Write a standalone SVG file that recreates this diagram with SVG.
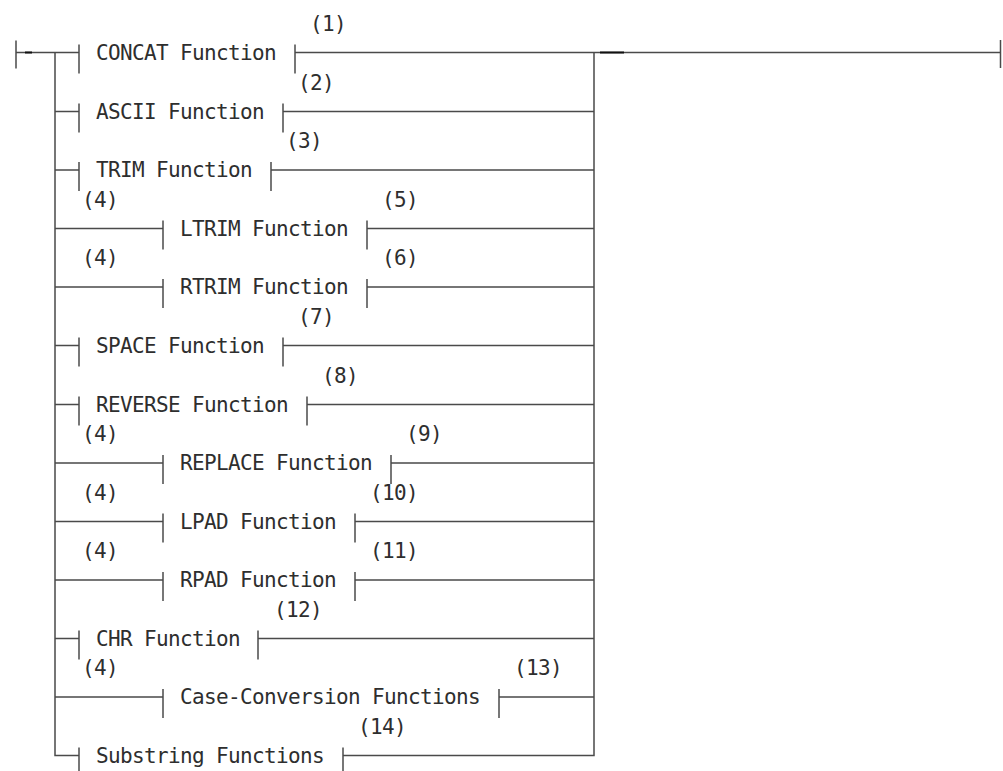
<svg xmlns="http://www.w3.org/2000/svg" width="1003" height="771" viewBox="0 0 1003 771">
<style>
.ln{stroke:#4a4a4a;stroke-width:1.5;fill:none}
.dk{stroke:#111;stroke-width:2;fill:none}
.t{font-family:"DejaVu Sans Mono","Liberation Mono",monospace;font-size:21px;letter-spacing:-0.64px;fill:#2e2e2e}
</style>
<defs>
<path id="tick" d="M0 -8 V21" class="ln"/>
</defs>
<rect width="1003" height="771" fill="#fff"/>
<g id="connectors">
<path class="ln" d="M16 40.5 V68.5 M1000.5 40 V68"/>
<path class="ln" d="M16 52.5 H79 M295 52.5 H1000.5"/>
<path class="dk" d="M25 52.5 H32 M600 52.5 H624"/>
<path class="ln" d="M55 52.5 V755.5 H79"/>
<path class="ln" d="M343 755.5 H594 V52.5"/>
<path class="ln" d="M55 111.5 H79 M283 111.5 H594"/>
<path class="ln" d="M55 170 H79 M271 170 H594"/>
<path class="ln" d="M55 228.5 H163 M367 228.5 H594"/>
<path class="ln" d="M55 287 H163 M367 287 H594"/>
<path class="ln" d="M55 345.5 H79 M283 345.5 H594"/>
<path class="ln" d="M55 404.5 H79 M307 404.5 H594"/>
<path class="ln" d="M55 463 H163 M391 463 H594"/>
<path class="ln" d="M55 521.5 H163 M355 521.5 H594"/>
<path class="ln" d="M55 580 H163 M355 580 H594"/>
<path class="ln" d="M55 638.5 H79 M258 638.5 H594"/>
<path class="ln" d="M55 697 H163 M499 697 H594"/>
</g>
<g id="n-concat">
<use href="#tick" x="79" y="52.5"/><use href="#tick" x="295" y="52.5"/>
<text class="t" x="96" y="59.5">CONCAT Function</text>
<text class="t" x="310" y="30.5">(1)</text>
</g>
<g id="n-ascii">
<use href="#tick" x="79" y="111.5"/><use href="#tick" x="283" y="111.5"/>
<text class="t" x="96" y="118.5">ASCII Function</text>
<text class="t" x="298" y="89.5">(2)</text>
</g>
<g id="n-trim">
<use href="#tick" x="79" y="170"/><use href="#tick" x="271" y="170"/>
<text class="t" x="96" y="177">TRIM Function</text>
<text class="t" x="286" y="148">(3)</text>
</g>
<g id="n-ltrim">
<use href="#tick" x="163" y="228.5"/><use href="#tick" x="367" y="228.5"/>
<text class="t" x="180" y="235.5">LTRIM Function</text>
<text class="t" x="82" y="206.5">(4)</text>
<text class="t" x="382" y="206.5">(5)</text>
</g>
<g id="n-rtrim">
<use href="#tick" x="163" y="287"/><use href="#tick" x="367" y="287"/>
<text class="t" x="180" y="294">RTRIM Function</text>
<text class="t" x="82" y="265">(4)</text>
<text class="t" x="382" y="265">(6)</text>
</g>
<g id="n-space">
<use href="#tick" x="79" y="345.5"/><use href="#tick" x="283" y="345.5"/>
<text class="t" x="96" y="352.5">SPACE Function</text>
<text class="t" x="298" y="323.5">(7)</text>
</g>
<g id="n-reverse">
<use href="#tick" x="79" y="404.5"/><use href="#tick" x="307" y="404.5"/>
<text class="t" x="96" y="411.5">REVERSE Function</text>
<text class="t" x="322" y="382.5">(8)</text>
</g>
<g id="n-replace">
<use href="#tick" x="163" y="463"/><use href="#tick" x="391" y="463"/>
<text class="t" x="180" y="470">REPLACE Function</text>
<text class="t" x="82" y="441">(4)</text>
<text class="t" x="406" y="441">(9)</text>
</g>
<g id="n-lpad">
<use href="#tick" x="163" y="521.5"/><use href="#tick" x="355" y="521.5"/>
<text class="t" x="180" y="528.5">LPAD Function</text>
<text class="t" x="82" y="499.5">(4)</text>
<text class="t" x="370" y="499.5">(10)</text>
</g>
<g id="n-rpad">
<use href="#tick" x="163" y="580"/><use href="#tick" x="355" y="580"/>
<text class="t" x="180" y="587">RPAD Function</text>
<text class="t" x="82" y="558">(4)</text>
<text class="t" x="370" y="558">(11)</text>
</g>
<g id="n-chr">
<use href="#tick" x="79" y="638.5"/><use href="#tick" x="258" y="638.5"/>
<text class="t" x="96" y="645.5">CHR Function</text>
<text class="t" x="274" y="616.5">(12)</text>
</g>
<g id="n-case">
<use href="#tick" x="163" y="697"/><use href="#tick" x="499" y="697"/>
<text class="t" x="180" y="704">Case-Conversion Functions</text>
<text class="t" x="82" y="675">(4)</text>
<text class="t" x="514" y="675">(13)</text>
</g>
<g id="n-substring">
<use href="#tick" x="79" y="755.5"/><use href="#tick" x="343" y="755.5"/>
<text class="t" x="96" y="762.5">Substring Functions</text>
<text class="t" x="358" y="733.5">(14)</text>
</g>
</svg>
